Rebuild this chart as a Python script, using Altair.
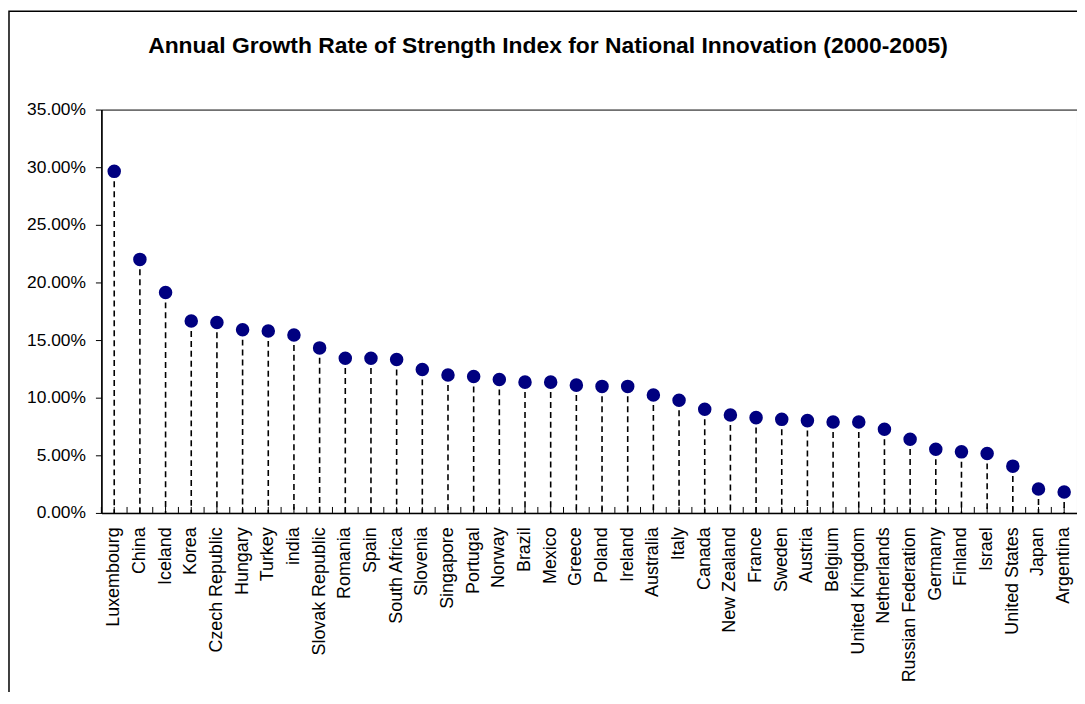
import altair as alt
import pandas as pd

countries = [
    "Luxembourg", "China", "Iceland", "Korea", "Czech Republic", "Hungary",
    "Turkey", "india", "Slovak Republic", "Romania", "Spain", "South Africa",
    "Slovenia", "Singapore", "Portugal", "Norway", "Brazil", "Mexico",
    "Greece", "Poland", "Ireland", "Australia", "Italy", "Canada",
    "New Zealand", "France", "Sweden", "Austria", "Belgium", "United Kingdom",
    "Netherlands", "Russian Federation", "Germany", "Finland", "Israel",
    "United States", "Japan", "Argentina",
]
growth = [
    0.2964, 0.2200, 0.1913, 0.1665, 0.1653, 0.1590,
    0.1579, 0.1544, 0.1432, 0.1343, 0.1343, 0.1331,
    0.1245, 0.1197, 0.1184, 0.1158, 0.1135, 0.1135,
    0.1109, 0.1098, 0.1098, 0.1023, 0.0977, 0.0899,
    0.0850, 0.0827, 0.0812, 0.0801, 0.0789, 0.0789,
    0.0726, 0.0640, 0.0553, 0.0530, 0.0516,
    0.0406, 0.0207, 0.0181,
]
y_ticks = [0.0, 0.05, 0.10, 0.15, 0.20, 0.25, 0.30, 0.35]
title_text = ["Annual Growth Rate of Strength Index for National Innovation (2000-2005)"]

df = pd.DataFrame({"country": countries, "growth": growth})

W, H = 982, 406
FONT = "Liberation Sans"

x_scale = alt.Scale(domain=countries, paddingInner=0, paddingOuter=0)
y_scale = alt.Scale(domain=[0, 0.35], nice=False, zero=True)

x_axis = alt.Axis(
    title=None, labelAngle=270, labelAlign="right", labelBaseline="middle",
    labelFontSize=18, labelFont=FONT, labelColor="black", labelPadding=14,
    ticks=False, domainColor="black", domainWidth=1.5, grid=False,
    labelOverlap=False,
)
y_axis = alt.Axis(
    title=None, values=y_ticks, format=".2%", labelFontSize=17.5,
    labelFont=FONT, labelColor="black", labelPadding=10, tickSize=6,
    tickColor="black", tickWidth=1, domainColor="black", domainWidth=1.5,
    grid=False,
)

base = alt.Chart(df)

stems = base.mark_rule(color="black", strokeWidth=1.6, strokeDash=[6, 4]).encode(
    x=alt.X("country:N", sort=countries, scale=x_scale, axis=x_axis),
    y=alt.Y("growth:Q", scale=y_scale, axis=y_axis),
    y2=alt.datum(0),
)

tick_center = base.mark_rule(color="black", strokeWidth=1).encode(
    x=alt.X("country:N", sort=countries, scale=x_scale, bandPosition=0.5),
    y=alt.value(H - 6), y2=alt.value(H),
)
tick_edge = base.mark_rule(color="black", strokeWidth=1).encode(
    x=alt.X("country:N", sort=countries, scale=x_scale, bandPosition=0),
    y=alt.value(H - 6), y2=alt.value(H),
)

dots = base.mark_circle(size=185, color="#000080", opacity=1).encode(
    x=alt.X("country:N", sort=countries, scale=x_scale),
    y=alt.Y("growth:Q", scale=y_scale),
)

frame = alt.Chart(alt.Data(values=[{}])).mark_rect(
    fillOpacity=0, stroke="black", strokeWidth=1.5
).encode(
    x=alt.value(-93), x2=alt.value(W + 60),
    y=alt.value(-99), y2=alt.value(H + 400),
)

title = alt.Chart(pd.DataFrame({"t": title_text})).mark_text(
    font=FONT, fontSize=23, fontWeight="bold", color="black",
    align="center", baseline="alphabetic",
).encode(
    text="t:N", x=alt.value(449.5), y=alt.value(-56.5),
)

chart = alt.layer(frame, stems, tick_center, tick_edge, dots, title).properties(
    width=W, height=H,
    background="white",
    autosize=alt.AutoSizeParams(type="none"),
    padding={"left": 94, "top": 100, "right": 0, "bottom": 178},
).configure_view(stroke="black", strokeWidth=1)

chart.save("out.html", embed_options={"renderer": "svg", "actions": False})
